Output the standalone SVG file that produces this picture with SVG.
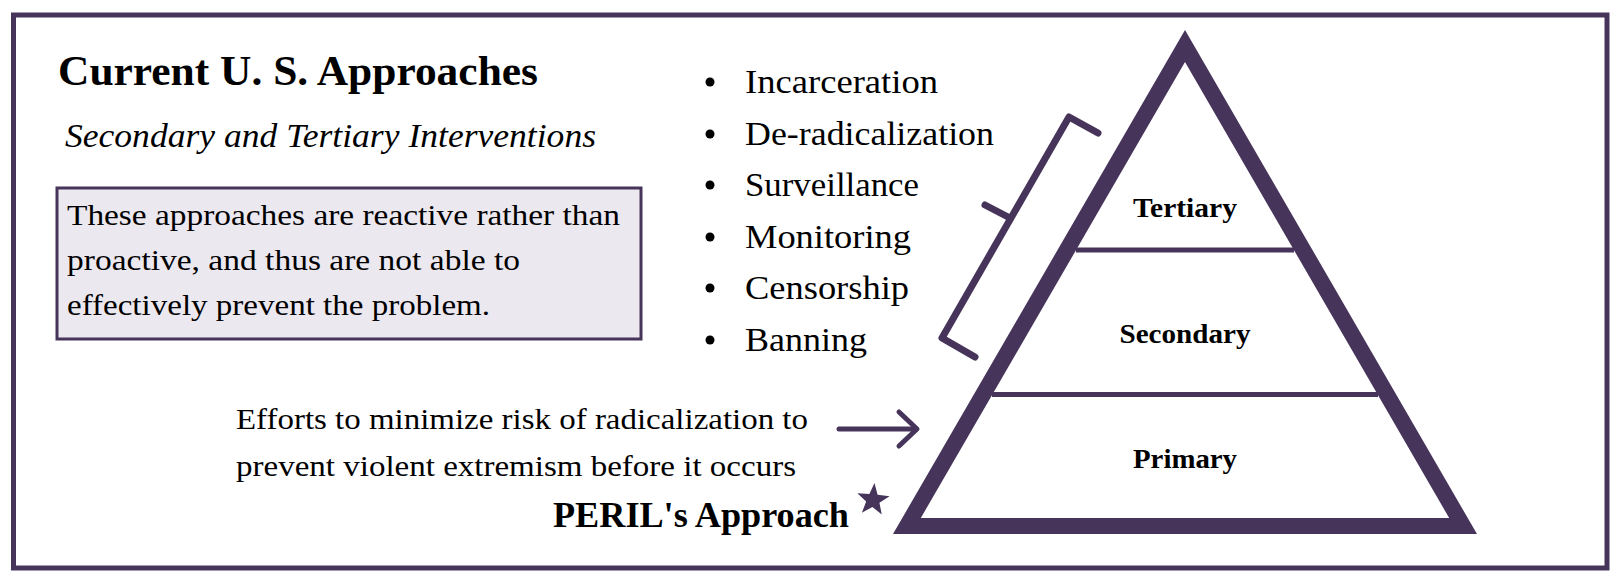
<svg xmlns="http://www.w3.org/2000/svg" width="1620" height="582" viewBox="0 0 1620 582">
  <style>
    .serif { font-family: "Liberation Serif", "Times New Roman", serif; fill: #000; }
    .title { font-size: 42px; font-weight: bold; }
    .sub { font-size: 33px; font-style: italic; }
    .body { font-size: 30px; }
    .bullet { font-size: 33px; }
    .tier { font-size: 28px; font-weight: bold; text-anchor: middle; }
    .peril { font-size: 35px; font-weight: bold; }
    .purple { fill: #46345a; }
    .dot { fill: #000; }
    .line { fill: none; stroke: #46345a; stroke-linecap: round; stroke-linejoin: round; }
  </style>
  <rect x="0" y="0" width="1620" height="582" fill="#ffffff"/>
  <rect id="frame" x="13.5" y="15" width="1593.5" height="553" fill="none" stroke="#46345a" stroke-width="5"/>

  <g id="title">
    <text class="serif title" x="58" y="85" textLength="480" lengthAdjust="spacingAndGlyphs">Current U. S. Approaches</text>
  </g>
  <g id="subtitle">
    <text class="serif sub" x="65" y="147" textLength="531" lengthAdjust="spacingAndGlyphs">Secondary and Tertiary Interventions</text>
  </g>
  <g id="note">
    <rect x="57" y="188" width="584" height="151" fill="#ece8f0" stroke="#46345a" stroke-width="3"/>
    <text class="serif body" x="67" y="225" textLength="553" lengthAdjust="spacingAndGlyphs">These approaches are reactive rather than</text>
    <text class="serif body" x="67" y="270" textLength="453" lengthAdjust="spacingAndGlyphs">proactive, and thus are not able to</text>
    <text class="serif body" x="67" y="315" textLength="423" lengthAdjust="spacingAndGlyphs">effectively prevent the problem.</text>
  </g>

  <g id="bullets">
    <circle class="dot" cx="710" cy="82" r="4.5"/>
    <text class="serif bullet" x="745" y="93" textLength="193" lengthAdjust="spacingAndGlyphs">Incarceration</text>
    <circle class="dot" cx="710" cy="134" r="4.5"/>
    <text class="serif bullet" x="745" y="145" textLength="249" lengthAdjust="spacingAndGlyphs">De-radicalization</text>
    <circle class="dot" cx="710" cy="185" r="4.5"/>
    <text class="serif bullet" x="745" y="196" textLength="174" lengthAdjust="spacingAndGlyphs">Surveillance</text>
    <circle class="dot" cx="710" cy="237" r="4.5"/>
    <text class="serif bullet" x="745" y="248" textLength="166" lengthAdjust="spacingAndGlyphs">Monitoring</text>
    <circle class="dot" cx="710" cy="288" r="4.5"/>
    <text class="serif bullet" x="745" y="299" textLength="164" lengthAdjust="spacingAndGlyphs">Censorship</text>
    <circle class="dot" cx="710" cy="340" r="4.5"/>
    <text class="serif bullet" x="745" y="351" textLength="122" lengthAdjust="spacingAndGlyphs">Banning</text>
  </g>

  <g id="pyramid">
    <path class="purple" fill-rule="evenodd" d="M1185,30 L1477,534 L893,534 Z M1185,62 L920.8,518 L1449.2,518 Z"/>
    <line x1="1076" y1="250" x2="1294" y2="250" stroke="#46345a" stroke-width="5"/>
    <line x1="992" y1="394.5" x2="1378" y2="394.5" stroke="#46345a" stroke-width="5"/>
  </g>
  <g id="tertiary">
    <text class="serif tier" x="1185" y="217" textLength="104" lengthAdjust="spacingAndGlyphs">Tertiary</text>
  </g>
  <g id="secondary">
    <text class="serif tier" x="1185" y="343" textLength="131" lengthAdjust="spacingAndGlyphs">Secondary</text>
  </g>
  <g id="primary">
    <text class="serif tier" x="1185" y="468" textLength="104" lengthAdjust="spacingAndGlyphs">Primary</text>
  </g>

  <g id="primary-label">
    <text class="serif body" x="236" y="429" textLength="572" lengthAdjust="spacingAndGlyphs">Efforts to minimize risk of radicalization to</text>
    <text class="serif body" x="236" y="476" textLength="560" lengthAdjust="spacingAndGlyphs">prevent violent extremism before it occurs</text>
  </g>
  <g id="peril">
    <text class="serif peril" x="553" y="527" textLength="296" lengthAdjust="spacingAndGlyphs">PERIL's Approach</text>
    <polygon class="purple" transform="translate(873,500) rotate(5)" points="0,-17 4.11,-5.66 16.17,-5.25 6.66,2.16 9.99,13.75 0,7 -9.99,13.75 -6.66,2.16 -16.17,-5.25 -4.11,-5.66"/>
  </g>

  <g id="connectors">
    <polyline class="line" stroke-width="7" points="1098,133 1069,117 942,338 975,357"/>
    <line class="line" stroke-width="7" x1="985" y1="205" x2="1010" y2="218"/>
    <line class="line" stroke-width="5" x1="839" y1="429" x2="915" y2="429"/>
    <polyline class="line" stroke-width="5" points="899,412 917,429 899,446"/>
  </g>
</svg>
